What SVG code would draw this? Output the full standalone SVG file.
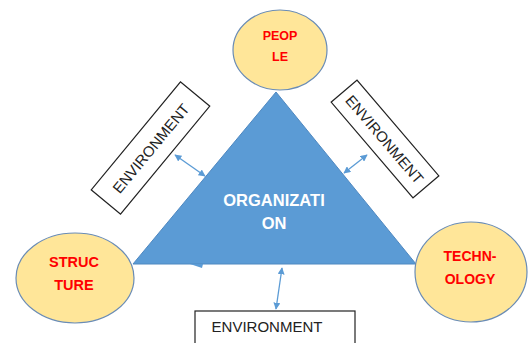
<svg xmlns="http://www.w3.org/2000/svg" width="528" height="343" viewBox="0 0 528 343">
<style>
.ell{fill:#FFE699;stroke:#6A8CB5;stroke-width:1.2}
.lbl{font-family:"Liberation Sans",Arial,sans-serif;font-weight:bold;fill:#FF0000;text-anchor:middle}
.env{fill:#fff;stroke:#222;stroke-width:1.2}
.envt{font-family:"Liberation Sans",Arial,sans-serif;font-size:15px;fill:#222;text-anchor:middle}
.con{stroke:#5B9BD5;stroke-width:1.3;fill:none;marker-start:url(#ah);marker-end:url(#ah)}
</style>
<defs>
<marker id="ah" viewBox="0 0 10 10" refX="9" refY="5" markerWidth="7" markerHeight="7" orient="auto-start-reverse" markerUnits="userSpaceOnUse">
<path d="M0,0 L10,5 L0,10 z" fill="#5B9BD5"/>
</marker>
</defs>
<rect width="528" height="343" fill="#fff"/>
<g id="organization">
<polygon points="276,92 133,264 416,264" fill="#5B9BD5" stroke="#4F88C0" stroke-width="1"/>
<polygon points="190,264 203,264 202,268" fill="#5B9BD5"/>
<text x="274" y="206" font-family="Liberation Sans,Arial,sans-serif" font-weight="bold" font-size="16.5" fill="#fff" text-anchor="middle">ORGANIZATI</text>
<text x="274" y="229" font-family="Liberation Sans,Arial,sans-serif" font-weight="bold" font-size="16.5" fill="#fff" text-anchor="middle">ON</text>
</g>
<g id="people">
<ellipse class="ell" cx="280" cy="50" rx="47" ry="40"/>
<text class="lbl" x="280" y="40" font-size="12.5">PEOP</text>
<text class="lbl" x="280" y="61" font-size="12.5">LE</text>
</g>
<g id="structure">
<ellipse class="ell" cx="75" cy="278" rx="59" ry="45"/>
<text class="lbl" x="74" y="267" font-size="14.5">STRUC</text>
<text class="lbl" x="74" y="290" font-size="14.5">TURE</text>
</g>
<g id="technology">
<ellipse class="ell" cx="471" cy="272" rx="56" ry="50"/>
<text class="lbl" x="470" y="261" font-size="14">TECHN-</text>
<text class="lbl" x="470" y="284" font-size="14">OLOGY</text>
</g>
<g id="env-left" transform="rotate(-50.4 150.5 148)">
<rect class="env" x="80.5" y="129" width="140" height="38"/>
<text class="envt" x="150.5" y="154" font-size="16">ENVIRONMENT</text>
</g>
<g id="env-right" transform="rotate(49.5 385 139)">
<rect class="env" x="322" y="122" width="126" height="34"/>
<text class="envt" x="385" y="145" font-size="15.5">ENVIRONMENT</text>
</g>
<g id="env-bottom">
<rect class="env" x="195" y="311" width="160" height="40"/>
<text class="envt" x="267" y="332">ENVIRONMENT</text>
</g>
<g id="connectors">
<line class="con" x1="175" y1="155" x2="205" y2="176"/>
<line class="con" x1="367" y1="155" x2="344" y2="173"/>
<line class="con" x1="282" y1="268" x2="276" y2="309"/>
</g>
</svg>
